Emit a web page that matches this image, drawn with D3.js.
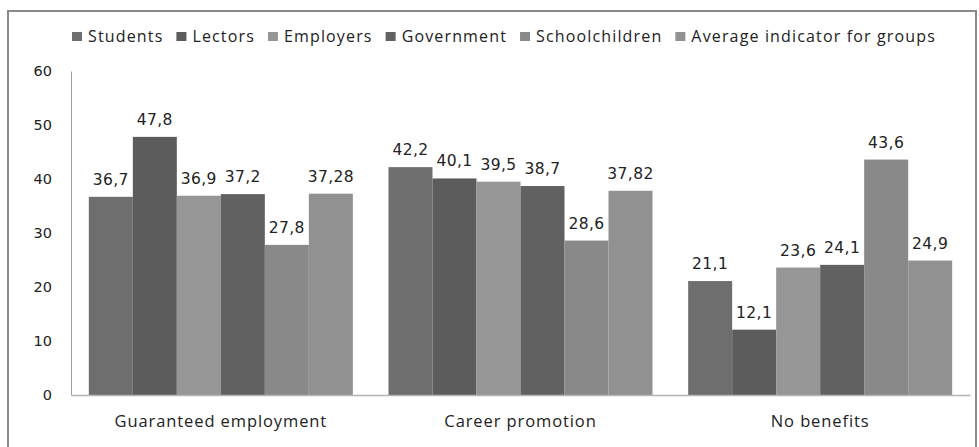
<!DOCTYPE html>
<html>
<head>
<meta charset="utf-8">
<script src="https://cdn.jsdelivr.net/npm/d3@7"></script>
<style>
  html, body { margin: 0; padding: 0; background: #fff; }
  svg { display: block; }
</style>
</head>
<body>
<svg id="chart" width="979" height="447"></svg>
<script>
// Survey answers by respondent group, percent
const categories = ["Guaranteed employment", "Career promotion", "No benefits"];
const seriesNames = ["Students", "Lectors", "Employers", "Government", "Schoolchildren", "Average indicator for groups"];
const students       = [36.7, 42.2, 21.1];
const lectors        = [47.8, 40.1, 12.1];
const employers      = [36.9, 39.5, 23.6];
const government     = [37.2, 38.7, 24.1];
const schoolchildren = [27.8, 28.6, 43.6];
const average        = [37.28, 37.82, 24.9];
const yTicks = [0, 10, 20, 30, 40, 50, 60];

const seriesValues = [students, lectors, employers, government, schoolchildren, average];
const colors = ["#6e6e6e", "#5c5c5c", "#969696", "#616161", "#898989", "#919191"];

const svg = d3.select("#chart");
const plot = { left: 71, right: 970, top: 71, bottom: 395 };

// outer chart frame
svg.append("rect")
  .attr("x", 8).attr("y", 11)
  .attr("width", 968).attr("height", 450)
  .attr("fill", "none").attr("stroke", "#8a8a8a").attr("stroke-width", 2);

const x0 = d3.scaleBand().domain(categories).range([plot.left, plot.right]).paddingInner(0).paddingOuter(0);
const x1 = d3.scaleBand().domain(seriesNames).range([0, x0.bandwidth()]).paddingInner(0).paddingOuter(0.405);
const y = d3.scaleLinear().domain([0, 60]).range([plot.bottom, plot.top]);

const fmt = v => String(v).replace(".", ",");

// y axis: line and labels only
const yAxis = svg.append("g")
  .attr("transform", `translate(${plot.left},0)`)
  .call(d3.axisLeft(y).tickValues(yTicks).tickSize(0).tickPadding(19).tickFormat(d => d));
yAxis.select(".domain").attr("stroke", "#a0a0a0").attr("stroke-width", 1);
yAxis.selectAll("text")
  .attr("font-family", "DejaVu Sans, Verdana, sans-serif")
  .attr("font-size", 14.5).attr("fill", "#222");

// bars per category
const groups = svg.append("g").selectAll("g")
  .data(categories)
  .join("g")
  .attr("transform", d => `translate(${x0(d)},0)`);

groups.selectAll("rect")
  .data((c, ci) => seriesNames.map((s, si) => ({ s, si, v: seriesValues[si][ci] })))
  .join("rect")
  .attr("x", d => x1(d.s))
  .attr("y", d => y(d.v))
  .attr("width", x1.bandwidth())
  .attr("height", d => y(0) - y(d.v))
  .attr("fill", d => colors[d.si]);

groups.selectAll("text.val")
  .data((c, ci) => seriesNames.map((s, si) => ({ s, si, v: seriesValues[si][ci] })))
  .join("text")
  .attr("class", "val")
  .attr("x", d => x1(d.s) + x1.bandwidth() / 2)
  .attr("y", d => y(d.v) - 12)
  .attr("text-anchor", "middle")
  .attr("font-family", "DejaVu Sans, Verdana, sans-serif")
  .attr("font-size", 15.5)
  .attr("letter-spacing", 0.4)
  .attr("fill", "#222")
  .text(d => fmt(d.v));

// x axis baseline
const xAxis = svg.append("g")
  .attr("transform", `translate(0,${plot.bottom})`)
  .call(d3.axisBottom(x0).tickSize(0).tickPadding(20));
xAxis.select(".domain").attr("stroke", "#b4b4b4").attr("stroke-width", 1.5);
xAxis.selectAll("text")
  .attr("font-family", "Open Sans, sans-serif")
  .attr("font-size", 16.5)
  .attr("letter-spacing", 0.9)
  .attr("fill", "#222");

// legend, laid out from measured label widths
const legend = svg.append("g").attr("transform", "translate(72,37)");
let lx = 0;
seriesNames.forEach((name, i) => {
  const item = legend.append("g").attr("transform", `translate(${lx},0)`);
  item.append("rect").attr("x", 0).attr("y", -5).attr("width", 10).attr("height", 9).attr("fill", colors[i]);
  const t = item.append("text")
    .attr("x", 16).attr("y", 5)
    .attr("font-family", "Open Sans, sans-serif")
    .attr("font-size", 16)
    .attr("letter-spacing", 1.15)
    .attr("fill", "#222")
    .text(name);
  lx += 16 + t.node().getComputedTextLength() + 13;
});
</script>
</body>
</html>
